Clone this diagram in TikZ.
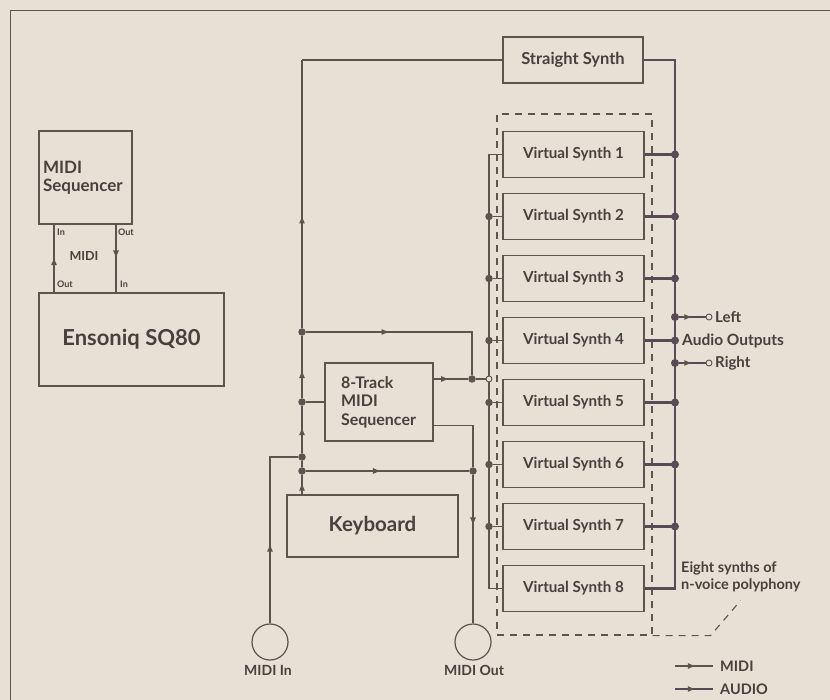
\documentclass[tikz,border=0pt]{standalone}
\usepackage{fontspec}
\setmainfont{Lato}
\usetikzlibrary{arrows.meta,decorations.markings,calc}
\definecolor{bgc}{HTML}{E6E0D5}
\definecolor{lc}{HTML}{5E534D}
\definecolor{ac}{HTML}{5A4A56}
\definecolor{tc}{HTML}{4A403B}
\tikzset{
 box/.style={draw=lc, line width=1.3pt, inner sep=0pt, text=tc, font=\bfseries},
 midi/.style={draw=lc, line width=1.1pt},
 audio/.style={draw=ac, line width=2.2pt},
 marr/.style={postaction={decorate}, decoration={markings, mark=at position #1 with {\arrow[lc]{Latex[length=8pt,width=6pt]}}}},
 marr/.default=0.5,
 jdot/.style={circle, fill=lc, inner sep=0pt, minimum size=7.5pt},
 adot/.style={circle, fill=ac, inner sep=0pt, minimum size=8pt},
 odot/.style={circle, draw=lc, fill=bgc, line width=0.9pt, inner sep=0pt, minimum size=6pt},
 lbl/.style={text=tc, inner sep=0pt},
 grp/.style={draw=lc, line width=1.1pt, dash pattern=on 7pt off 6pt},
 jack/.style={circle, draw=lc, line width=1.2pt, minimum size=36pt, inner sep=0pt},
}
\begin{document}
\begin{tikzpicture}[x=1pt,y=-1pt]
\fill[bgc] (0,0) rectangle (830,700);
\useasboundingbox (0,0) rectangle (830,700);
% page frame
\draw[lc, line width=1pt] (830,11) -- (10,11) -- (10,700);

% ---------- left cluster ----------
\node[box, minimum width=93pt, minimum height=93pt, text width=85pt, inner xsep=4pt, align=left,
      font=\bfseries\fontsize{17}{18}\selectfont] (seqL) at (85.5,177.5) {MIDI\\Sequencer};
\node[box, minimum width=185pt, minimum height=93pt, font=\bfseries\fontsize{22}{24}\selectfont] (ens) at (131.5,339.5) {Ensoniq SQ80};
\coordinate (lx) at (54,0);
\coordinate (rx) at (116,0);
\draw[midi, marr=0.52] (ens.north -| lx) -- (seqL.south -| lx);
\draw[midi, marr=0.5] (seqL.south -| rx) -- (ens.north -| rx);
\node[lbl, anchor=west, font=\bfseries\fontsize{9}{10}\selectfont] (tIn1) at (57,232) {In};
\node[lbl, anchor=west, font=\bfseries\fontsize{9}{10}\selectfont] (tOut1) at (118,232) {Out};
\node[lbl, anchor=west, font=\bfseries\fontsize{9}{10}\selectfont] (tOut2) at (57,284) {Out};
\node[lbl, anchor=west, font=\bfseries\fontsize{9}{10}\selectfont] (tIn2) at (120,284) {In};
\node[lbl, font=\bfseries\fontsize{12.5}{13}\selectfont] (tMidiL) at (84,256) {MIDI};

% ---------- main boxes ----------
\node[box, minimum width=140pt, minimum height=46pt, font=\bfseries\fontsize{16.5}{18}\selectfont] (straight) at (573,60) {Straight Synth};
\foreach \i in {1,...,8} {
  \node[box, minimum width=141pt, minimum height=46pt, font=\bfseries\fontsize{15.2}{17}\selectfont]
     (vs\i) at (573.5,{154.5+62*(\i-1)}) {Virtual Synth \i};
}
\node[grp, minimum width=155pt, minimum height=521pt, inner sep=0pt] (group) at (574.5,374.5) {};
\draw[grp] (group.south east) -- ++(58,0) -- ++(30,-35);
\node[lbl, anchor=west, align=left, font=\bfseries\fontsize{14.5}{17}\selectfont] (note) at (681,577) {Eight synths of\\n-voice polyphony};

\node[box, minimum width=108pt, minimum height=78pt, text width=76pt, inner xsep=16pt, align=left,
      font=\bfseries\fontsize{16}{18.5}\selectfont] (seq8) at (379,402) {8-Track\\MIDI\\Sequencer};
\node[box, minimum width=171pt, minimum height=62pt, font=\bfseries\fontsize{20.5}{22}\selectfont] (kbd) at (372.5,526) {Keyboard};
\node[jack] (midiin) at (270,642) {};
\node[jack] (midiout) at (473,642) {};
\node[lbl, font=\bfseries\fontsize{14}{15}\selectfont] (tMidiIn) at (268,670) {MIDI In};
\node[lbl, font=\bfseries\fontsize{14}{15}\selectfont] (tMidiOut) at (474,670) {MIDI Out};

% ---------- MIDI bus from keyboard ----------
\coordinate (busx) at (302,0);
\coordinate (sx) at (472,0);
\coordinate (ox) at (473,0);
\coordinate (mbx) at (489,0);
\coordinate (abx) at (675,0);
\node[jdot] (j1) at (302,332) {};
\node[jdot] (j2) at (302,402) {};
\node[jdot] (j3) at (302,457) {};
\node[jdot] (j4) at (302,471) {};
\node[jdot] (jS) at (472,379) {};
\node[jdot] (jK) at (473,471) {};
\coordinate (so2) at ($(seq8.south east)+(0,-16)$);

\draw[midi, marr=0.6] (kbd.north -| busx) -- (j4);
\draw[midi] (j4) -- (j3);
\draw[midi, marr=0.55] (j3) -- (j2);
\draw[midi, marr=0.45] (j2) -- (j1);
\draw[midi, marr=0.42] (j1) -- (straight.west -| busx);
\draw[midi] (straight.west -| busx) -- (straight.west);
\draw[midi] (j2) -- (seq8.west);
\draw[midi, marr=0.4] (j1) -- (j1 -| sx) -- (jS);
\draw[midi, marr=0.45] (seq8.east |- jS) -- (jS);
\draw[midi] (so2) -- (so2 -| ox) -- (jK);
\draw[midi, marr=0.34] (jK) -- (midiout.north);
\draw[midi, marr=0.46] (j4) -- (jK);
\draw[midi, marr=0.41] (midiin.north) -- (midiin.north |- j3) -- (j3);

% ---------- MIDI bus to virtual synths ----------
\draw[midi] (vs1.west) -- (vs1.west -| mbx) -- (vs8.west -| mbx) -- (vs8.west);
\foreach \i in {2,...,7} {
  \node[jdot] (m\i) at (vs\i.west -| mbx) {};
  \draw[midi] (m\i) -- (vs\i.west);
}
\node[odot] (oS) at (489,379) {};
\draw[midi] (jS) -- (oS);

% ---------- audio bus ----------
\draw[audio] (straight.east) -- (straight.east -| abx) -- (vs8.east -| abx) -- (vs8.east);
\foreach \i in {1,...,7} {
  \draw[audio] (vs\i.east) -- (vs\i.east -| abx);
  \node[adot] (a\i) at (vs\i.east -| abx) {};
}
\node[adot] (lj) at (675,317) {};
\node[adot] (rj) at (675,363) {};
\node[odot] (lo) at (709,317) {};
\node[odot] (ro) at (709,363) {};
\draw[audio, line width=1.6pt, marr=0.5] (lj) -- (lo);
\draw[audio, line width=1.6pt, marr=0.5] (rj) -- (ro);
\node[lbl, anchor=west, font=\bfseries\fontsize{15}{17}\selectfont] (tLeft) at (715,317) {Left};
\node[lbl, anchor=west, font=\bfseries\fontsize{15}{17}\selectfont] (tRight) at (715,363) {Right};
\node[lbl, anchor=west, font=\bfseries\fontsize{15.5}{17}\selectfont] (tAO) at (682,341) {Audio Outputs};

% ---------- legend ----------
\coordinate (lgm1) at (675,666);
\coordinate (lgm2) at (713,666);
\coordinate (lga1) at (675,689);
\coordinate (lga2) at (713,689);
\draw[midi, marr=0.55] (lgm1) -- (lgm2);
\draw[audio, line width=2.6pt, marr=0.55] (lga1) -- (lga2);
\node[lbl, anchor=west, font=\bfseries\fontsize{14.5}{16}\selectfont] (tLM) at (720,666) {MIDI};
\node[lbl, anchor=west, font=\bfseries\fontsize{14.5}{16}\selectfont] (tLA) at (720,689) {AUDIO};
\end{tikzpicture}
\end{document}
